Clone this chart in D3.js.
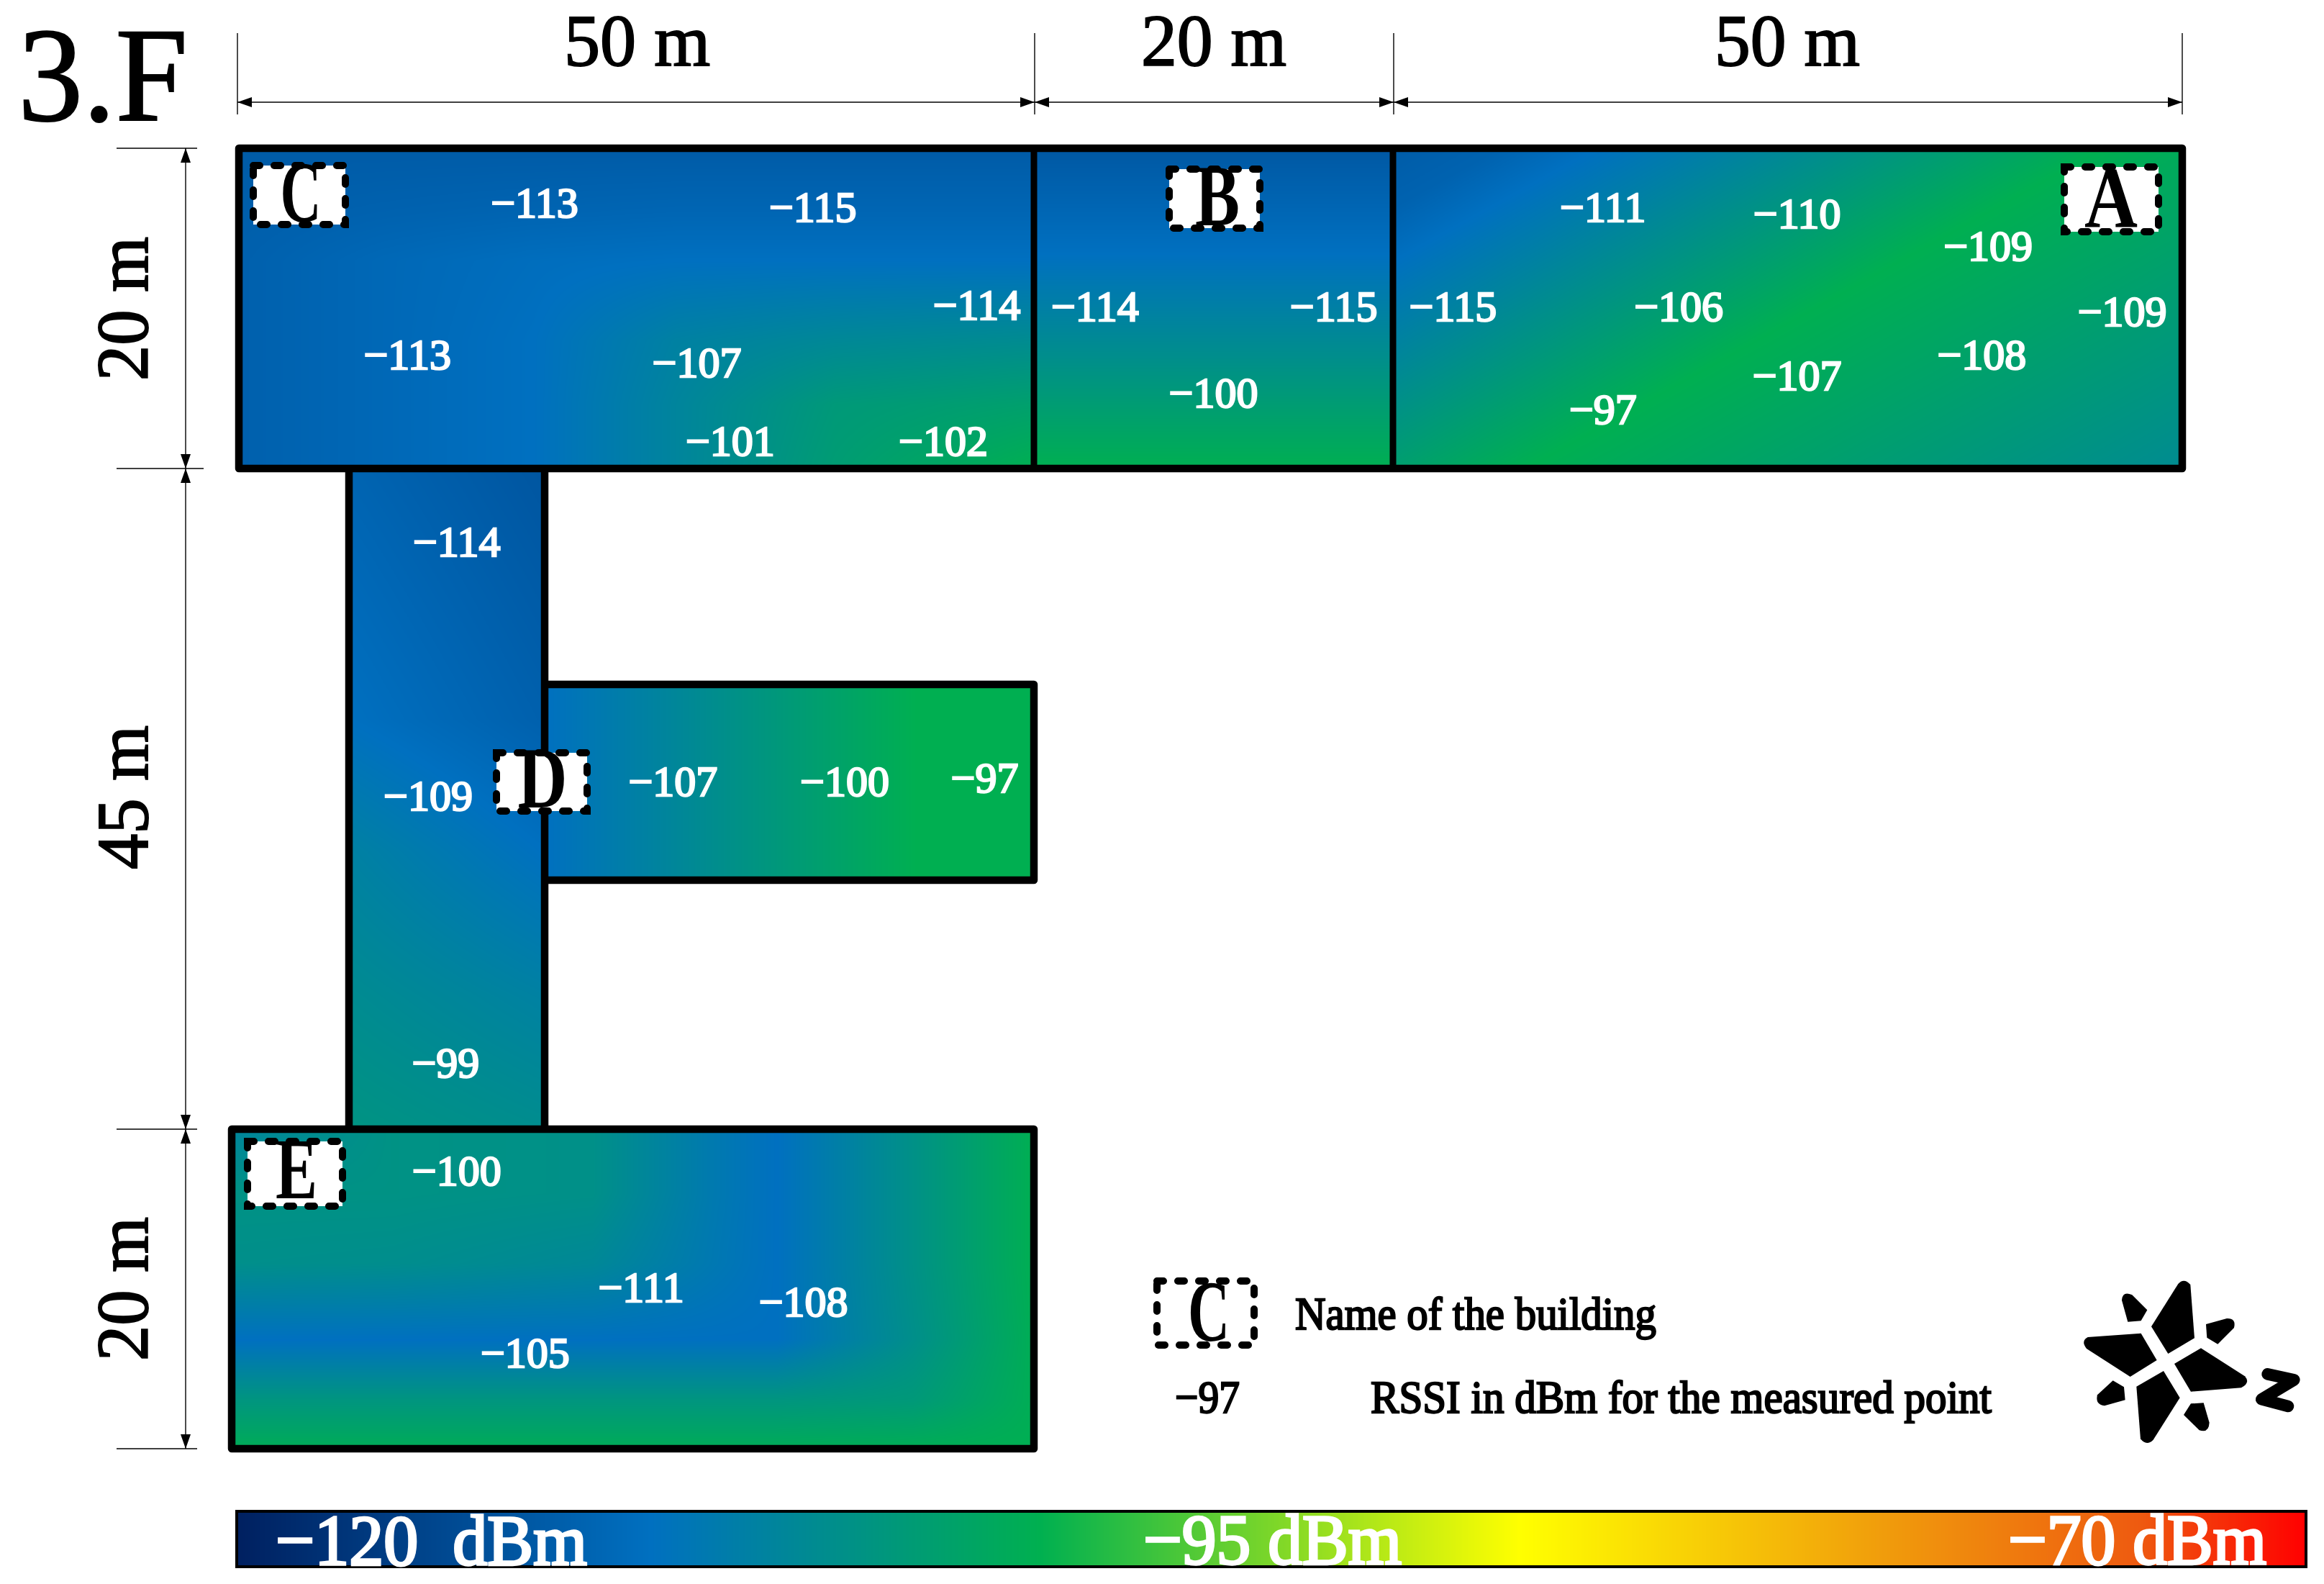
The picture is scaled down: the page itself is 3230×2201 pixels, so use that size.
<!DOCTYPE html>
<html><head><meta charset="utf-8">
<script src="https://cdnjs.cloudflare.com/ajax/libs/d3/7.8.5/d3.min.js"></script>
<style>html,body{margin:0;padding:0;background:#fff}svg{display:block}text{font-family:"Liberation Serif",serif}</style>
</head><body><div id="c"></div>
<script>
// --- colour scale (dBm on the legend bar) ---
const colorDomain = [-120,-110,-100.6,-89,-80,-74,-70];
const colorRange = ["#002060","#0070c0","#00b050","#ffff00","#f09a0c","#ee5a10","#ff0000"];
// --- building dimensions (metres) ---
const widthsLabels = ["50 m","20 m","50 m"];
const heightLabels = ["20 m","45 m","20 m"];
const xBreaks = [0,50,70,120];
const yBreaks = [0,20,65,85];
// --- measured points ---
const rssi   = [-113,-115,-114,-113,-107,-101,-102,-114,-115,-100,-115,-111,-110,-109,-106,-107,-97,-108,-109,-114,-109,-107,-100,-97,-99,-100,-111,-108,-105];
const pointX = [18.6,36.1,46.4,10.6,28.8,30.9,44.3,53.4,66.7,60.0,73.8,83.3,95.6,107.7,88.1,95.6,83.3,107.3,116.2,13.7,11.9,27.3,38.1,46.9,13.0,13.7,25.3,35.5,18.0];
const pointY = [3.4,3.7,9.8,12.9,13.4,18.3,18.3,9.9,9.9,15.3,9.9,3.7,4.1,6.1,9.9,14.2,16.3,12.9,10.2,25.0,42.3,41.3,41.3,41.1,60.5,67.6,74.9,75.8,79.0];
// --- signal fields per room (dBm colour level) ---
const fieldC = {cols:[0,.18,.37,.55,.75,1], rows:[0,.2,.35,.6,.8,1], v:[
 [-112.6,-112.6,-112.6,-112.6,-112.6,-112.6],
 [-112.2,-111.8,-111.5,-111.3,-111.3,-111.3],
 [-112,-111,-110.3,-110,-110,-110],
 [-112,-111,-110,-107.5,-106.5,-106],
 [-112,-111,-110,-107,-104,-103],
 [-112,-111,-110,-107,-103.5,-100.7]]};
const fieldB = {cols:[0,1], rows:[0,.33,.66,1], v:[[-113,-113],[-110,-110],[-105.5,-105.5],[-100.7,-100.7]]};
const fieldCorr = {cols:[0,1], rows:[0,.38,.58,.8,1], v:[[-111.5,-113.3],[-110,-112],[-107.5,-110],[-106,-107.5],[-104.8,-105.8]]};
const fieldD = {cols:[0,.76,1], rows:[0,1], v:[[-110,-100.7,-100.7],[-110,-100.7,-100.7]]};
const fieldE = {cols:[0,.2,.45,.6,.68,.85,1], rows:[0,.2,.42,.66,.85,1], v:[
 [-107,-105,-105.3,-108.6,-110,-105.2,-100.8],
 [-105,-105,-105.3,-108.6,-110,-105.2,-100.8],
 [-105.5,-105.7,-106.5,-108.8,-110,-105.2,-100.8],
 [-110,-110,-110,-110,-110,-105.5,-101],
 [-104.5,-104.5,-104.5,-104.5,-104.5,-104,-101],
 [-101.2,-101.2,-101.2,-101.2,-101.2,-101,-100.8]]};
const fieldAStops = [0,.08,.23,.52,1];
const fieldAValues = [-112.5,-111.7,-108,-100.7,-106];
const buildingNames = ["A","B","C","D","E"];

const W=3230,H=2201;
const svg=d3.select("#c").append("svg").attr("width",W).attr("height",H).attr("viewBox",`0 0 ${W} ${H}`);
const x=d3.scaleLinear().domain(xBreaks).range([332,1437,1936,3033]);
const y=d3.scaleLinear().domain(yBreaks).range([206,651,1569,2013]);
const color=d3.scaleLinear().domain(colorDomain).range(colorRange).interpolate(d3.interpolateRgb).clamp(true);

// colour lookup (0.02 dB)
const lut=d3.range(0,2501).map(i=>d3.rgb(color(-120+i*0.02)));
function put(ctx,w,h,fn){
  const img=ctx.createImageData(w,h),d=img.data;
  for(let j=0;j<h;j++)for(let i=0;i<w;i++){
    const c=lut[Math.max(0,Math.min(2500,Math.round((fn(i/(w-1||1),j/(h-1||1))+120)/0.02)))],k=(j*w+i)*4;
    d[k]=c.r;d[k+1]=c.g;d[k+2]=c.b;d[k+3]=255;
  }
  ctx.putImageData(img,0,0);
}
function gridFn(f){
  const cx=d3.scaleLinear().domain(f.cols).range(d3.range(f.cols.length)).clamp(true);
  const cy=d3.scaleLinear().domain(f.rows).range(d3.range(f.rows.length)).clamp(true);
  return (u,v)=>{
    const a=cx(u),b=cy(v),i=Math.min(Math.floor(a),f.cols.length-2),j=Math.min(Math.floor(b),f.rows.length-2),s=a-i,t=b-j;
    return (1-t)*((1-s)*f.v[j][i]+s*f.v[j][i+1])+t*((1-s)*f.v[j+1][i]+s*f.v[j+1][i+1]);
  };
}
function raster(px,py,pw,ph,fn){
  const cv=document.createElement("canvas");cv.width=pw;cv.height=ph;
  put(cv.getContext("2d"),pw,ph,fn);
  svg.append("image").attr("x",px).attr("y",py).attr("width",pw).attr("height",ph)
    .attr("preserveAspectRatio","none").attr("href",cv.toDataURL("image/png"));
}
const aScale=d3.scaleLinear().domain(fieldAStops).range(fieldAValues);
const aFn=(u,v)=>aScale((u*1088*.48+v*435*.877)/903);
raster(x(0),y(0),x(50)-x(0),y(20)-y(0),gridFn(fieldC));
raster(x(50),y(0),x(70)-x(50),y(20)-y(0),gridFn(fieldB));
raster(x(70),y(0),x(120)-x(70),y(20)-y(0),aFn);
raster(485,y(20),272,y(65)-y(20),gridFn(fieldCorr));
raster(757,951,x(50)-757,272,gridFn(fieldD));
raster(322,y(65),x(50)-322,y(85)-y(65),gridFn(fieldE));

// walls
const wall=svg.append("g").attr("fill","none").attr("stroke","#000").attr("stroke-width",10.5).attr("stroke-linejoin","round");
wall.append("rect").attr("x",x(0)).attr("y",y(0)).attr("width",x(120)-x(0)).attr("height",y(20)-y(0));
wall.append("rect").attr("x",322).attr("y",y(65)).attr("width",x(50)-322).attr("height",y(85)-y(65));
wall.selectAll("line.d").data([50,70]).join("line").attr("x1",d=>x(d)).attr("x2",d=>x(d)).attr("y1",y(0)).attr("y2",y(20)).attr("stroke-width",9);
wall.selectAll("line.c").data([485,757]).join("line").attr("class","c").attr("x1",d=>d).attr("x2",d=>d).attr("y1",y(20)).attr("y2",y(65));
wall.append("path").attr("d",`M757,951H${x(50)}V1223H757`);

// dimension lines
const dim=svg.append("g").attr("stroke","#000").attr("stroke-width",1.4);
const tx=[330,x(50)+1,x(70)+1,x(120)], ty=[y(0),y(20),y(65),y(85)];
tx.forEach(v=>dim.append("line").attr("x1",v).attr("x2",v).attr("y1",46).attr("y2",159));
dim.append("line").attr("x1",tx[0]).attr("x2",tx[3]).attr("y1",142).attr("y2",142);
ty.forEach((v,i)=>dim.append("line").attr("y1",v).attr("y2",v).attr("x1",162).attr("x2",i==1?283:274));
dim.append("line").attr("y1",ty[0]).attr("y2",ty[3]).attr("x1",258).attr("x2",258);
const arrows=svg.append("g").attr("fill","#000");
d3.pairs(tx).forEach(([a,b])=>{
  arrows.append("path").attr("d",`M${a},142l20,-7v14z`);
  arrows.append("path").attr("d",`M${b},142l-20,-7v14z`);
});
d3.pairs(ty).forEach(([a,b])=>{
  arrows.append("path").attr("d",`M258,${a}l-7,20h14z`);
  arrows.append("path").attr("d",`M258,${b}l-7,-20h14z`);
});

// text helper
function T(s,px,py,size,opt={}){
  const t=svg.append("text").attr("x",px).attr("y",py).attr("font-size",size).attr("fill",opt.fill||"#000")
    .attr("text-anchor",opt.anchor||"start").attr("font-weight",opt.weight||"normal").text(s);
  if(opt.len)t.attr("textLength",opt.len).attr("lengthAdjust","spacingAndGlyphs");
  if(opt.rot)t.attr("transform",`rotate(-90 ${px} ${py})`);
  if(opt.stroke)t.attr("stroke",opt.fill||"#000").attr("stroke-width",opt.stroke);
  return t;
}
T("3.F",25,167,187,{len:236,stroke:2});
widthsLabels.forEach((s,i)=>T(s,[784,1586,2383][i],91,102,{len:[203,202,202][i],stroke:2}));
heightLabels.forEach((s,i)=>T(s,205,[529,1208,1891][i],102,{rot:true,len:200,stroke:2}));

// measured points
svg.append("g").selectAll("text").data(rssi).join("text")
  .attr("x",(d,i)=>x(pointX[i])).attr("y",(d,i)=>y(pointY[i])+20)
  .attr("text-anchor","middle").attr("font-size",60).attr("fill","#fff").attr("stroke","#fff").attr("stroke-width",2.4)
  .text(d=>"\u2212"+Math.abs(d));

// building name boxes
const bx=[[2865,228,139,98],[1621,231,134,90],[348,226,136,90],[686,1042,134,89],[340,1582,140,98]];
const letterX=[2934,1692,418,754,412], letterBase=[315,313,308,1122,1665], letterW=[74,62,57,69,58];
buildingNames.forEach((n,i)=>{
  const b=bx[i];
  svg.append("rect").attr("x",b[0]+4).attr("y",b[1]+4).attr("width",b[2]-8).attr("height",b[3]-8)
    .attr("fill","#fff").attr("stroke","#000").attr("stroke-width",10).attr("stroke-linecap","round").attr("stroke-dasharray","9 20");
  T(n,letterX[i]-letterW[i]/2,letterBase[i],120,{weight:"bold",len:letterW[i]});
});

// legend
svg.append("rect").attr("x",1608).attr("y",1780).attr("width",135).attr("height",89).attr("fill","none")
  .attr("stroke","#000").attr("stroke-width",10).attr("stroke-linecap","round").attr("stroke-dasharray","9 20");
T("C",1651,1863,120,{weight:"bold",len:58});
T("Name of the building",1800,1847,64,{stroke:2.4,len:502});
T("\u221297",1633,1963,64,{stroke:2.4,len:90});
T("RSSI in dBm for the measured point",1905,1963,64,{stroke:2.4,len:863});

// north arrow
const north=svg.append("g").attr("transform","translate(2800,1760) scale(0.3333)");
["M570,250 L682,72 Q706,45 733,75 L750,298 L640,363 Z",
 "M527,278 L305,294 Q275,310 300,342 L482,459 L593,390 Z",
 "M777,340 L960,457 Q985,485 945,505 L735,521 L666,405 Z",
 "M508,500 L621,435 L689,547 L578,722 Q550,750 525,718 Z",
 "M553,181 L490,118 Q450,100 447,140 L472,230 L527,226 Z",
 "M798,240 L885,216 Q925,215 915,255 L847,323 L802,296 Z",
 "M410,475 L456,502 L461,556 L375,580 Q335,575 345,535 Z",
 "M735,571 L788,568 L812,650 Q810,695 770,682 L705,618 Z"].forEach(d=>north.append("path").attr("d",d).attr("fill","#000"));
north.append("path").attr("d","M1055,448 L1165,472 L1030,553 L1140,582").attr("fill","none").attr("stroke","#000").attr("stroke-width",50).attr("stroke-linecap","round").attr("stroke-linejoin","round");

// colour bar
const bar=d3.scaleLinear().domain([-120,-70]).range([329,3205]);
raster(bar(-120),2100,Math.round(bar(-70)-bar(-120)),77,(u)=>bar.invert(bar(-120)+u*(bar(-70)-bar(-120))));
svg.append("rect").attr("x",bar(-120)).attr("y",2100).attr("width",bar(-70)-bar(-120)).attr("height",77).attr("fill","none").attr("stroke","#000").attr("stroke-width",4);
T("\u2212120  dBm",383,2174,100,{fill:"#fff",len:433,stroke:3.5}).attr("xml:space","preserve");
T("\u221295 dBm",1589,2173,100,{fill:"#fff",len:359,stroke:3.5});
T("\u221270 dBm",2791,2173,100,{fill:"#fff",len:359,stroke:3.5});
</script></body></html>
